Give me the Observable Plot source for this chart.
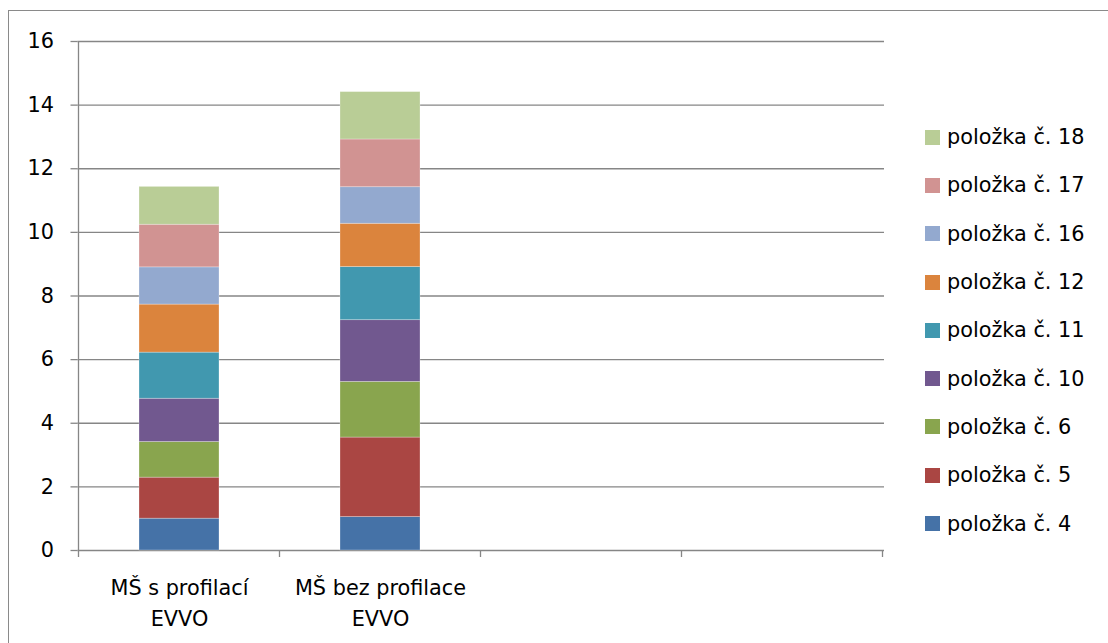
<!DOCTYPE html>
<html>
<head>
<meta charset="utf-8">
<script src="https://cdn.jsdelivr.net/npm/d3@7"></script>
<script src="https://cdn.jsdelivr.net/npm/@observablehq/plot@0.6"></script>
<style>
  body { margin: 0; background: #fff; }
  #wrap { position: relative; width: 1108px; height: 643px; overflow: hidden; font-family: "DejaVu Sans", sans-serif; }
  #frame { position: absolute; left: 8px; top: 10px; width: 1200px; height: 800px; border: 1.5px solid #8a8a8a; box-sizing: border-box; }
  #chart { position: absolute; left: 0; top: 0; }
  #chart svg { color: #868686; }
  #chart svg text { fill: #000; }
  #legend { position: absolute; left: 925px; top: 113px; }
  .item { display: flex; align-items: center; height: 48.3px; font-size: 20.8px; color: #000; }
  .sw { width: 15px; height: 15px; margin-right: 7px; flex: none; }
</style>
</head>
<body>
<div id="wrap">
  <div id="frame"></div>
  <div id="chart"></div>
  <div id="legend"></div>
</div>
<script>
// Categories on the x axis (the last two slots are empty)
const categories = ["MŠ s profilací\nEVVO", "MŠ bez profilace\nEVVO", "", " "];

// Stacked series, bottom to top
const series = ["položka č. 4", "položka č. 5", "položka č. 6", "položka č. 10", "položka č. 11", "položka č. 12", "položka č. 16", "položka č. 17", "položka č. 18"];
const colors = ["#4572a7", "#aa4643", "#89a54e", "#71588f", "#4198af", "#db843d", "#93a9cf", "#d19392", "#b9cd96"];

// Values per series for each school group
const valuesProfilaci = [1.0, 1.29, 1.12, 1.36, 1.45, 1.51, 1.17, 1.34, 1.19];
const valuesBezProfilace = [1.05, 2.50, 1.75, 1.94, 1.67, 1.36, 1.15, 1.50, 1.49];

const yTicks = [0, 2, 4, 6, 8, 10, 12, 14, 16];

const rows = [
  ...series.map((s, i) => ({category: categories[0], series: s, value: valuesProfilaci[i]})),
  ...series.map((s, i) => ({category: categories[1], series: s, value: valuesBezProfilace[i]}))
];

// Tick marks at the band boundaries plus the vertical axis line
function categoryTicks(index, {x, y}) {
  const step = x.step();
  const centers = categories.map(c => x(c) + x.bandwidth() / 2);
  const bounds = [centers[0] - step / 2, ...centers.map(c => c + step / 2)];
  const y0 = y(0);
  const g = d3.create("svg:g").attr("stroke", "#868686").attr("stroke-width", 1.3);
  g.append("line").attr("x1", bounds[0]).attr("x2", bounds[0]).attr("y1", y(16)).attr("y2", y0 + 7);
  for (const b of bounds.slice(1)) {
    g.append("line").attr("x1", b).attr("x2", b).attr("y1", y0).attr("y2", y0 + 7);
  }
  return g.node();
}

const chart = Plot.plot({
  width: 1108,
  height: 643,
  marginLeft: 77.5,
  marginRight: 224,
  marginTop: 41,
  marginBottom: 93,
  style: {fontFamily: "'DejaVu Sans', sans-serif", fontSize: "20.8px", background: "transparent"},
  x: {domain: categories, paddingInner: 0.6, paddingOuter: 0.3, label: null},
  y: {domain: [0, 16], label: null},
  color: {domain: series, range: colors},
  marks: [
    Plot.ruleY(yTicks, {stroke: "#868686", strokeWidth: 1.3}),
    Plot.barY(rows, {
      x: "category", y: "value", fill: "series", order: series,
      stroke: "white", strokeOpacity: 0.35, strokeWidth: 0.8
    }),
    categoryTicks,
    Plot.axisY({ticks: yTicks, tickSize: 7, tickPadding: 17, label: null, stroke: "#868686", strokeWidth: 1.3}),
    Plot.axisX({tickSize: 0, tickPadding: 23, label: null, lineHeight: 1.47})
  ]
});
document.getElementById("chart").append(chart);

// Legend, top entry is the last series
const legend = d3.select("#legend");
for (let i = series.length - 1; i >= 0; i--) {
  const item = legend.append("div").attr("class", "item");
  item.append("div").attr("class", "sw").style("background", colors[i]);
  item.append("span").text(series[i]);
}
</script>
</body>
</html>
